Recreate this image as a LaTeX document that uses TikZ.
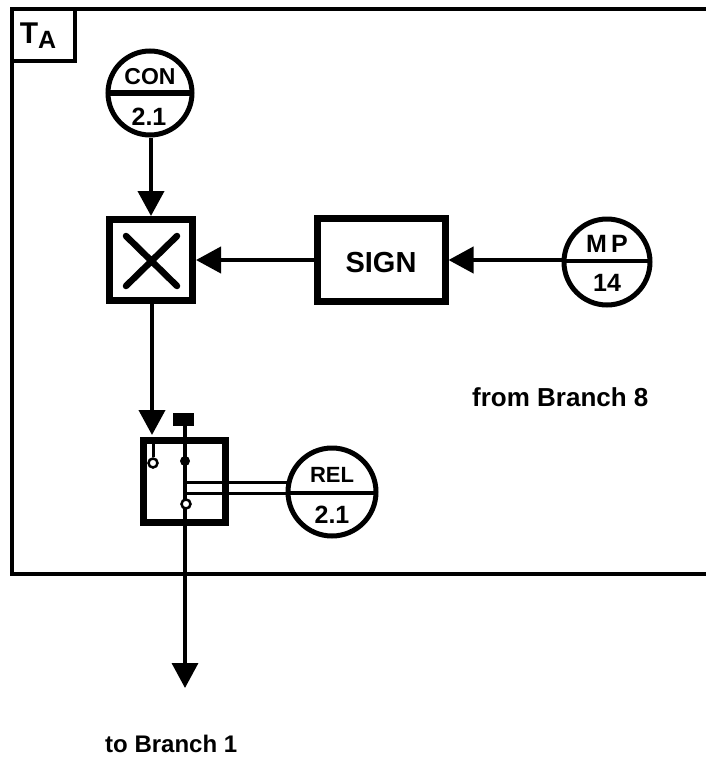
\documentclass[tikz,border=0pt]{standalone}
\usepackage{fontspec}
\setmainfont{Liberation Sans}
\usetikzlibrary{arrows.meta}
\tikzset{
 x=1pt,y=-1pt,
 thickbox/.style={draw=black,line width=7pt,fill=white,inner sep=0pt},
 framebox/.style={draw=black,line width=4.5pt},
 conn/.style={draw=black,line width=4pt,-{Triangle[length=25pt,width=26pt]}},
 thin line/.style={draw=black,line width=3pt},
 ring/.style={circle,draw=black,line width=5pt,fill=white,minimum size=84pt,inner sep=0pt},
 lbl/.style={font=\bfseries\fontsize{23}{26}\selectfont,inner sep=0pt,text=black},
 pin/.style={circle,draw=black,line width=2.5pt,fill=white,inner sep=0pt,minimum size=9pt},
 pinf/.style={circle,fill=black,inner sep=0pt,minimum size=10pt},
}
\begin{document}
\begin{tikzpicture}
\useasboundingbox (0,0) rectangle (706,758);
\fill[white] (0,0) rectangle (706,758);
% frame
\coordinate (ftr) at (706,9);
\coordinate (ftl) at (12,9);
\coordinate (fbl) at (12,574);
\coordinate (fbr) at (706,574);
\draw[framebox] (ftr) -- (ftl) -- (fbl) -- (fbr);
\coordinate (tr) at (75,9);
\coordinate (tc) at (75,61);
\coordinate (tl) at (12,61);
\draw[draw=black,line width=4pt] (tr) -- (tc) -- (tl);
\node[lbl,font=\bfseries\fontsize{30}{32}\selectfont] (ta) at (38,36) {T\raisebox{-5pt}{\fontsize{25}{26}\selectfont A}};
% circles
\node[ring] (con) at (150,93) {};
\coordinate (cl) at (107,93); \coordinate (cr) at (192,93);
\draw[draw=black,line width=5.5pt] (cl) -- (cr);
\node[lbl] (contop) at (150,77) {CON};
\node[lbl,font=\bfseries\fontsize{25}{26}\selectfont] (conbot) at (149,117) {2.1};
\node[ring,minimum size=86pt] (mp) at (607,262) {};
\coordinate (ml) at (564,261); \coordinate (mr) at (650,261);
\draw[draw=black,line width=4.5pt] (ml) -- (mr);
\node[lbl,font=\bfseries\fontsize{25}{26}\selectfont] (mptop) at (607,244) {M\,P};
\node[lbl,font=\bfseries\fontsize{25}{26}\selectfont] (mpbot) at (607,283) {14};
% boxes
\node[thickbox,minimum width=83pt,minimum height=81pt] (mul) at (151,260) {};
\coordinate (x1) at (126,236); \coordinate (x2) at (177,286);
\coordinate (x3) at (177,236); \coordinate (x4) at (126,286);
\draw[draw=black,line width=6.500pt,line cap=round] (x1) -- (x2) (x3) -- (x4);
\node[thickbox,minimum width=128pt,minimum height=83pt] (sign) at (381,260) {};
\node[lbl,font=\bfseries\fontsize{29}{32}\selectfont] (signt) at (381,263) {SIGN};
\node[thickbox,minimum width=82pt,minimum height=82pt] (sw) at (184.500,481) {};
% arrows
\draw[conn] (con.south -| mul) -- (mul.north);
\draw[conn] (mp.west |- sign) -- (sign.east);
\draw[conn] (sign.west) -- (mul.east);
\draw[conn] (mul.south) ++(1,0) -- +(0,131);
% switch internals
\node[ring,minimum size=88pt] (rel) at (332,492) {};
\coordinate (rl) at (288,493); \coordinate (rr) at (376,493);
\draw[draw=black,line width=4.5pt] (rl) -- (rr);
\node[lbl,font=\bfseries\fontsize{22}{26}\selectfont] (reltop) at (332,475) {REL};
\node[lbl,font=\bfseries\fontsize{25}{26}\selectfont] (relbot) at (332,515) {2.1};
\coordinate (d1) at (185,482); \coordinate (d2) at (288,482);
\coordinate (d3) at (185,493);
\draw[thin line] (d1) -- (d2) (d3) -- (rl);
\node[fill=black,inner sep=0pt,minimum width=21pt,minimum height=13pt] (stub) at (183.500,419) {};
\coordinate (tip) at (185,688);
\draw[draw=black,line width=3.500pt,-{Triangle[length=25pt,width=26pt]}] (stub.south -| tip) -- (tip);
\node[pin] (p1) at (153,463) {};
\draw[thin line] (153,438) -- (p1.north);
\node[pinf] (p2) at (185,461) {};
\node[pin] (p3) at (186,504) {};
% labels
\node[lbl,anchor=west,font=\bfseries\fontsize{26}{28}\selectfont] (from) at (472,397) {from Branch 8};
\node[lbl,anchor=west,font=\bfseries\fontsize{24}{28}\selectfont] (to) at (105,744) {to Branch 1};
\end{tikzpicture}
\end{document}
